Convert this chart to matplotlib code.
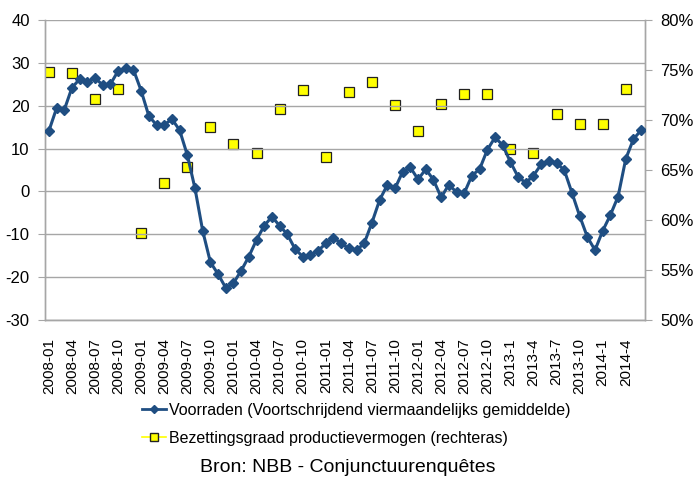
import numpy as np
import matplotlib
matplotlib.use("Agg")
import matplotlib.pyplot as plt
from matplotlib.lines import Line2D
from matplotlib.ticker import PercentFormatter

plt.rcParams['font.family'] = ['Liberation Sans Narrow', 'Liberation Sans', 'DejaVu Sans']
plt.rcParams['axes.unicode_minus'] = False

# months 2008-01 .. 2014-06
month_labels = []
for yr in range(2008, 2015):
    for m in range(1, 13):
        if yr == 2014 and m > 6:
            break
        month_labels.append("%d-%02d" % (yr, m) if yr < 2013 else "%d-%d" % (yr, m))

# voorraden, 4-month moving average (left axis)
voorraden = [14.1, 19.4, 19.0, 24.2, 26.2, 25.6, 26.5, 24.8, 25.0, 28.1, 28.7, 28.4,
             23.5, 17.6, 15.5, 15.5, 16.9, 14.3, 8.5, 0.7, -9.2, -16.5, -19.3, -22.5,
             -21.4, -18.5, -15.2, -11.3, -8.0, -5.9, -8.0, -10.0, -13.4, -15.2, -14.9, -13.9,
             -12.1, -10.8, -12.1, -13.3, -13.7, -12.1, -7.3, -2.0, 1.5, 0.7, 4.6, 5.6,
             2.8, 5.2, 2.7, -1.4, 1.6, -0.2, -0.4, 3.7, 5.2, 9.7, 12.6, 10.8,
             6.9, 3.4, 2.0, 3.7, 6.3, 7.2, 6.6, 5.0, -0.3, -5.7, -10.6, -13.7,
             -9.2, -5.5, -1.2, 7.6, 12.2, 14.3]

# capacity utilisation, quarterly (right axis, %)
bezetting = [74.8, 74.7, 72.1, 73.1, 58.7, 63.7, 65.3, 69.3, 67.6, 66.7, 71.1, 73.0,
             66.3, 72.8, 73.8, 71.5, 68.9, 71.6, 72.6, 72.6, 67.1, 66.7, 70.6, 69.6,
             69.6, 73.1]

navy = '#1F4E82'
grey = '#A6A6A6'

fig = plt.figure(figsize=(6.95, 4.83), dpi=100)
ax = fig.add_axes([45 / 695, 163 / 483, 600 / 695, 300 / 483])
ax2 = ax.twinx()

x = np.arange(len(voorraden))
xq = np.arange(0, len(month_labels), 3)

ax.set_zorder(ax2.get_zorder() + 1)
ax.patch.set_visible(False)

ax.plot(x, voorraden, color=navy, lw=2.2, marker='D', ms=5, zorder=3)
ax2.plot(xq, np.array(bezetting) / 100, ls='none', marker='s', ms=6.5,
         mfc='#FFFF00', mec='#222222', mew=0.9, zorder=3)

ax.set_xlim(-0.5, len(month_labels) - 0.5)
ax.set_ylim(-30, 40)
ax.set_yticks(range(-30, 41, 10))
ax2.set_ylim(0.5, 0.8)
ax2.set_yticks(np.arange(0.5, 0.801, 0.05))
ax2.yaxis.set_major_formatter(PercentFormatter(1.0, decimals=0))

ax.set_xticks(xq)
ax.set_xticklabels([month_labels[i] for i in xq], rotation=90, fontsize=11)
ax.tick_params(axis='x', length=0, pad=13)
ax.tick_params(axis='y', direction='out', length=5, color=grey, labelsize=12, pad=6)
ax2.tick_params(axis='y', direction='out', length=5, color=grey, labelsize=12, pad=6)

ax.grid(axis='y', color=grey, lw=1)
ax.set_axisbelow(True)
for a in (ax, ax2):
    a.spines['top'].set_visible(False)
    for s in ('left', 'right', 'bottom'):
        a.spines[s].set_color(grey)
        a.spines[s].set_linewidth(1)

handles = [Line2D([], [], color=navy, lw=2, marker='D', ms=4),
           Line2D([], [], color='#FFFF00', lw=1.2, marker='s', ms=6, mfc='#FFFF00', mec='#222222')]
fig.legend(handles, ['Voorraden (Voortschrijdend viermaandelijks gemiddelde)',
                     'Bezettingsgraad productievermogen (rechteras)'],
           loc='upper left', bbox_to_anchor=(142 / 695, 1 - 403 / 483), frameon=False,
           fontsize=11.5, handlelength=1.5, handletextpad=0.2, labelspacing=0.8, borderaxespad=0,
           borderpad=0)

fig.text(0.5, 1 - 467 / 483, 'Bron: NBB - Conjunctuurenquêtes', ha='center', va='center', fontsize=14)

fig.savefig('out.png', dpi=100)
